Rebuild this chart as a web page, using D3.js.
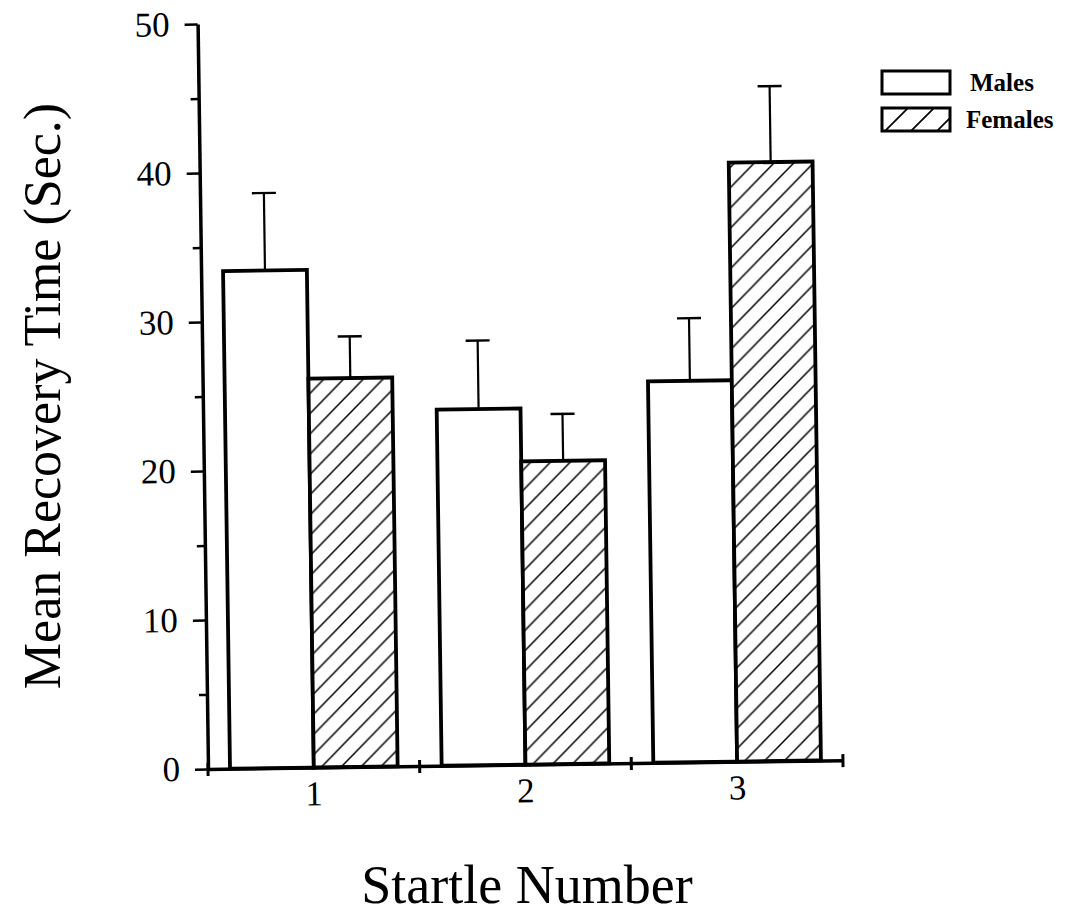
<!DOCTYPE html>
<html>
<head>
<meta charset="utf-8">
<script src="https://cdn.jsdelivr.net/npm/d3@7"></script>
<style>
  body { margin: 0; background: #fff; }
  svg { display: block; }
</style>
</head>
<body>
<svg id="chart" width="1069" height="920"></svg>
<script>
// Mean recovery time after each startle, by sex (seconds, mean + SE)
const startles = ["1", "2", "3"];
const groups = ["Males", "Females"];
const maleMeans = [33.4, 23.9, 25.6];
const maleErrors = [5.2, 4.6, 4.2];
const femaleMeans = [26.1, 20.35, 40.2];
const femaleErrors = [2.8, 3.15, 5.1];
const yTicks = [0, 10, 20, 30, 40, 50];
const yMinorTicks = [5, 15, 25, 35, 45];
const xTitle = "Startle Number";
const yTitle = "Mean Recovery Time (Sec.)";

const FONT = "'Liberation Serif', 'Times New Roman', serif";
const svg = d3.select("#chart");

// diagonal hatching used for the female bars and legend swatch
const defs = svg.append("defs");
function hatch(id, s, w) {
  const p = defs.append("pattern")
    .attr("id", id)
    .attr("patternUnits", "userSpaceOnUse")
    .attr("width", s).attr("height", s);
  p.append("rect").attr("width", s).attr("height", s).attr("fill", "#fff");
  p.append("path")
    .attr("d", `M${-s/4},${s/4} L${s/4},${-s/4} M0,${s} L${s},0 M${s*0.75},${s*1.25} L${s*1.25},${s*0.75}`)
    .attr("stroke", "#000").attr("stroke-width", w).attr("fill", "none");
}
hatch("hatch", 20, 1.5);
hatch("hatchLegend", 26, 1.7);

const x0 = d3.scaleBand().domain(startles).range([208, 843])
  .paddingInner(0.208).paddingOuter(0.104);
const x1 = d3.scaleBand().domain(groups).range([0, x0.bandwidth()]);
const y = d3.scaleLinear().domain([0, 50]).range([769, 24]);

const fills = { Males: "#fff", Females: "url(#hatch)" };

// the plotting area sits slightly tilted
const plot = svg.append("g").attr("transform", "rotate(-0.8,208,769)");

const rows = startles.map((s, i) => ({
  s,
  items: [
    { g: "Males", v: maleMeans[i], e: maleErrors[i] },
    { g: "Females", v: femaleMeans[i], e: femaleErrors[i] }
  ]
}));

const grp = plot.selectAll("g.startle").data(rows).join("g")
  .attr("class", "startle")
  .attr("transform", d => `translate(${x0(d.s)},0)`);

// error bars (upper arm only)
grp.selectAll("g.err").data(d => d.items).join("g").attr("class", "err")
  .each(function (d) {
    const g = d3.select(this);
    const cx = x1(d.g) + x1.bandwidth() / 2;
    g.append("line")
      .attr("x1", cx).attr("x2", cx)
      .attr("y1", y(d.v)).attr("y2", y(d.v + d.e))
      .attr("stroke", "#000").attr("stroke-width", 2.2);
    g.append("line")
      .attr("x1", cx - 12).attr("x2", cx + 12)
      .attr("y1", y(d.v + d.e)).attr("y2", y(d.v + d.e))
      .attr("stroke", "#000").attr("stroke-width", 2.4);
  });

grp.selectAll("rect").data(d => d.items).join("rect")
  .attr("x", d => x1(d.g))
  .attr("y", d => y(d.v))
  .attr("width", x1.bandwidth())
  .attr("height", d => y(0) - y(d.v))
  .attr("fill", d => fills[d.g])
  .attr("stroke", "#000")
  .attr("stroke-width", 3.8);

// y axis: major ticks with labels, minor ticks between
const yAxis = plot.append("g").attr("transform", "translate(208,0)")
  .call(d3.axisLeft(y).tickValues(yTicks).tickSize(13).tickSizeOuter(0)
    .tickPadding(15).tickFormat(d3.format("d")));
yAxis.select(".domain").attr("stroke-width", 3.5);
yAxis.selectAll(".tick line").attr("stroke-width", 2.5);
yAxis.selectAll(".tick text")
  .attr("font-family", FONT).attr("font-size", 35).attr("fill", "#000");

const yMinor = plot.append("g").attr("transform", "translate(208,0)")
  .call(d3.axisLeft(y).tickValues(yMinorTicks).tickSize(8).tickFormat(""));
yMinor.select(".domain").remove();
yMinor.selectAll(".tick line").attr("stroke-width", 2.5);

// x axis: labels centred on each startle, ticks on group boundaries
const xAxis = plot.append("g").attr("transform", `translate(0,${y(0)})`)
  .call(d3.axisBottom(x0).tickSize(0).tickSizeOuter(0).tickPadding(13));
xAxis.select(".domain").attr("stroke-width", 3.5);
xAxis.selectAll(".tick text")
  .attr("font-family", FONT).attr("font-size", 35).attr("fill", "#000");

const bounds = d3.range(startles.length + 1).map(i => x0.range()[0] + i * x0.step());
plot.append("g").selectAll("line").data(bounds).join("line")
  .attr("x1", d => d).attr("x2", d => d)
  .attr("y1", y(0) - 6).attr("y2", y(0) + 7)
  .attr("stroke", "#000").attr("stroke-width", 3);

// axis titles
svg.append("text")
  .attr("x", 527).attr("y", 903)
  .attr("text-anchor", "middle")
  .attr("font-family", FONT).attr("font-size", 54)
  .text(xTitle);

svg.append("text")
  .attr("transform", "translate(60,396) rotate(-90)")
  .attr("text-anchor", "middle")
  .attr("font-family", FONT).attr("font-size", 52)
  .text(yTitle);

// legend
const legendFills = { Males: "#fff", Females: "url(#hatchLegend)" };
const legend = svg.append("g").attr("transform", "translate(882,71)");
const li = legend.selectAll("g").data(groups).join("g")
  .attr("transform", (d, i) => `translate(0,${i * 37})`);
li.append("rect")
  .attr("width", 68).attr("height", 23)
  .attr("fill", d => legendFills[d])
  .attr("stroke", "#000").attr("stroke-width", 3);
li.append("text")
  .attr("x", (d, i) => i === 0 ? 88 : 84).attr("y", 20)
  .attr("font-family", FONT).attr("font-size", 25).attr("font-weight", "bold")
  .text(d => d);
</script>
</body>
</html>
